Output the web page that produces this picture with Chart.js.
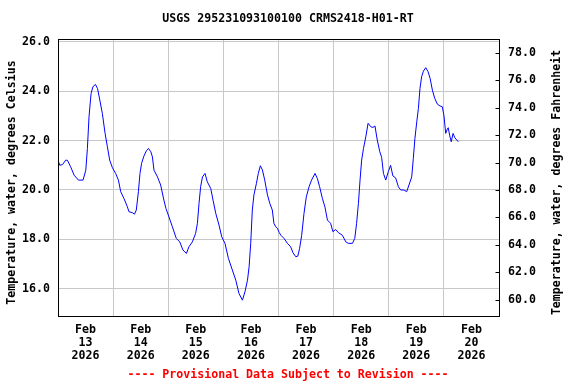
<!DOCTYPE html>
<html>
<head>
<meta charset="utf-8">
<script src="https://cdn.jsdelivr.net/npm/chart.js@4"></script>
<style>
  html, body { margin: 0; padding: 0; background: #fff; }
  canvas { display: block; }
</style>
</head>
<body>
<canvas id="chart" width="576" height="384"></canvas>
<script>
const chartTitle = 'USGS 295231093100100 CRMS2418-H01-RT';
const footerText = '---- Provisional Data Subject to Revision ----';
const leftAxisTitle = 'Temperature, water, degrees Celsius';
const rightAxisTitle = 'Temperature, water, degrees Fahrenheit';

const monthLabel = 'Feb';
const yearLabel = '2026';
const dayLabels = ['13', '14', '15', '16', '17', '18', '19', '20'];
const celsiusTicks = [16, 18, 20, 22, 24, 26];
const fahrenheitTicks = [60, 62, 64, 66, 68, 70, 72, 74, 76, 78];

// hours since Feb 13 00:00
const hours = [
  0, 0.75, 2, 3.35, 4.1, 5.5, 7.0, 8.9, 10.9, 12.1, 12.8, 13.5, 14.4, 15.2, 16.3, 17.2,
  18.2, 19.3, 20.5, 21.5, 22.5, 23.7, 25.1, 26.3, 27.3, 28.7, 30.2, 30.9, 32.4, 33.3, 34.1,
  35.0, 35.7, 36.4, 37.4, 38.5, 39.4, 40.4, 41.1, 41.8, 43.3, 44.7, 46.1, 47.0, 48.3, 49.8,
  51.5, 53.0, 54.4, 55.9, 57.0, 58.5, 59.9, 60.7, 61.4, 62.1, 62.9, 64.0, 65.0, 66.5, 67.5,
  68.7, 70.1, 71.3, 72.7, 74.2, 75.9, 77.4, 78.8, 80.3, 81.4, 82.5, 83.2, 83.9, 84.6, 85.3,
  86.4, 87.2, 88.1, 89.0, 90.0, 91.2, 92.2, 93.3, 94.0, 94.8, 95.5, 96.3, 97.0, 98.4, 99.9,
  101.3, 102.3, 103.5, 104.4, 105.2, 106.1, 107.1, 108.1, 109.3, 110.4, 111.9, 112.9, 113.9,
  115.1, 116.2, 117.3, 118.7, 119.7, 120.9, 122.1, 123.8, 125.3, 126.4, 128.2, 129.2, 130.0,
  130.8, 131.5, 132.2, 133.0, 134.0, 135.0, 136.2, 137.1, 138.0, 139.0, 140.1, 140.9, 141.7,
  142.7, 143.8, 144.8, 145.8, 147.0, 148.2, 149.2, 150.6, 151.8, 152.8, 154.0, 154.7, 155.4,
  156.2, 156.9, 157.6, 158.3, 159.1, 160.1, 161.1, 162.0, 163.0, 164.0, 165.2, 166.3, 167.3,
  168.0, 168.8, 169.5, 169.9, 170.5, 171.2, 172.0, 172.8, 174.3
];
const tempC = [
  21.21, 21.0, 21.03, 21.21, 21.2, 20.94, 20.6, 20.4, 20.4, 20.8, 21.68, 22.96, 23.9, 24.18, 24.27, 24.11,
  23.64, 23.1, 22.29, 21.75, 21.21, 20.9, 20.67, 20.4, 19.93, 19.66, 19.32, 19.12, 19.08, 19.02, 19.19,
  19.93, 20.67, 21.08, 21.37, 21.59, 21.68, 21.55, 21.34, 20.8, 20.53, 20.2, 19.59, 19.25, 18.91, 18.51,
  18.04, 17.9, 17.57, 17.43, 17.7, 17.9, 18.24, 18.65, 19.46, 20.13, 20.53, 20.67, 20.33, 20.06, 19.59,
  19.05, 18.58, 18.1, 17.84, 17.23, 16.76, 16.35, 15.81, 15.54, 15.88, 16.35, 16.89, 17.84, 19.19, 19.8,
  20.27, 20.67, 20.98, 20.81, 20.4, 19.8, 19.46, 19.19, 18.65, 18.51, 18.45, 18.28, 18.17, 18.04, 17.84,
  17.7, 17.46, 17.3, 17.32, 17.64, 18.17, 19.05, 19.72, 20.13, 20.4, 20.67, 20.47, 20.13,
  19.66, 19.32, 18.78, 18.65, 18.31, 18.4, 18.27, 18.17, 17.9, 17.84, 17.84, 18.04, 18.65,
  19.46, 20.4, 21.21, 21.68, 22.15, 22.7, 22.56, 22.53, 22.59, 22.02, 21.55, 21.32, 20.67,
  20.4, 20.74, 21.0, 20.57, 20.49, 20.13, 20.0, 20.0, 19.93, 20.2, 20.53, 21.28, 22.09,
  22.76, 23.3, 24.11, 24.58, 24.81, 24.95, 24.79, 24.52, 24.04, 23.71, 23.47, 23.4, 23.37,
  23.03, 22.29, 22.47, 22.52, 22.22, 21.95, 22.29, 22.11, 21.95
];

const xMaxHours = 192;
const yMinC = 14.9;
const yMaxC = 26.11;
const toF = c => c * 1.8 + 32;

const font = { family: '"DejaVu Sans Mono", monospace', weight: 'bold', size: 11.6 };
const gridColor = '#c8c8c8';

// frame, inward ticks on the right axis, and both axis titles reading bottom-to-top
const framePlugin = {
  id: 'frame',
  afterDraw(chart) {
    const { ctx, chartArea: a } = chart;
    const y2 = chart.scales.y2;
    ctx.save();
    ctx.strokeStyle = '#000';
    ctx.lineWidth = 1;
    const l = Math.round(a.left) + 0.5, t = Math.round(a.top) + 0.5;
    const r = Math.round(a.right) + 0.5, b = Math.round(a.bottom) + 0.5;
    ctx.strokeRect(l, t, r - l, b - t);
    ctx.beginPath();
    y2.ticks.forEach(tk => {
      const py = Math.round(y2.getPixelForValue(tk.value)) + 0.5;
      ctx.moveTo(r - 4, py);
      ctx.lineTo(r, py);
    });
    ctx.stroke();

    const midY = (a.top + a.bottom) / 2 + 5;
    ctx.fillStyle = '#000';
    ctx.font = `${font.weight} ${font.size}px ${font.family}`;
    ctx.textAlign = 'center';
    ctx.textBaseline = 'middle';
    [[12, leftAxisTitle], [557, rightAxisTitle]].forEach(([x, text]) => {
      ctx.save();
      ctx.translate(x, midY);
      ctx.rotate(-Math.PI / 2);
      ctx.fillText(text, 0, 0);
      ctx.restore();
    });
    ctx.restore();
  }
};

new Chart(document.getElementById('chart').getContext('2d'), {
  type: 'line',
  data: {
    datasets: [{
      data: hours.map((h, i) => ({ x: h, y: tempC[i] })),
      borderColor: '#0000ff',
      borderWidth: 1,
      pointRadius: 0,
      tension: 0,
      fill: false,
      yAxisID: 'y'
    }]
  },
  options: {
    responsive: false,
    animation: false,
    layout: { padding: 0 },
    plugins: {
      legend: { display: false },
      tooltip: { enabled: false },
      title: {
        display: true,
        text: chartTitle,
        color: '#000',
        font: { ...font, lineHeight: 1.2 },
        padding: { top: 12.5, bottom: 12.58 }
      },
      subtitle: {
        display: true,
        position: 'bottom',
        text: footerText,
        color: '#ff0000',
        font: { ...font, lineHeight: 1.2 },
        padding: { top: 0, bottom: 2 }
      }
    },
    scales: {
      x: {
        type: 'linear',
        min: 0,
        max: xMaxHours,
        afterBuildTicks: scale => {
          const t = [];
          for (let h = 0; h <= xMaxHours; h += 12) t.push({ value: h });
          scale.ticks = t;
        },
        afterFit: scale => { scale.height = 52.08; },
        border: { display: false },
        grid: {
          drawTicks: false,
          color: c => (c.tick && c.tick.value % 24 === 0 ? gridColor : 'rgba(0,0,0,0)')
        },
        ticks: {
          autoSkip: false,
          maxRotation: 0,
          padding: 8,
          color: '#000',
          font: { ...font, lineHeight: 1.1 },
          callback: v => (v % 24 === 12 ? [monthLabel, dayLabels[(v - 12) / 24], yearLabel] : '')
        }
      },
      y: {
        position: 'left',
        min: yMinC,
        max: yMaxC,
        afterBuildTicks: scale => { scale.ticks = celsiusTicks.map(v => ({ value: v })); },
        afterFit: scale => { scale.width = 58; },
        border: { display: false },
        grid: { drawTicks: false, color: gridColor },
        ticks: {
          padding: 8,
          color: '#000',
          font,
          callback: v => v.toFixed(1)
        }
      },
      y2: {
        position: 'right',
        display: true,
        min: toF(yMinC),
        max: toF(yMaxC),
        afterBuildTicks: scale => { scale.ticks = fahrenheitTicks.map(v => ({ value: v })); },
        afterFit: scale => { scale.width = 77; },
        border: { display: false },
        grid: { drawTicks: false, drawOnChartArea: false },
        ticks: {
          padding: 9,
          color: '#000',
          font,
          callback: v => v.toFixed(1)
        }
      }
    }
  },
  plugins: [framePlugin]
});
</script>
</body>
</html>
